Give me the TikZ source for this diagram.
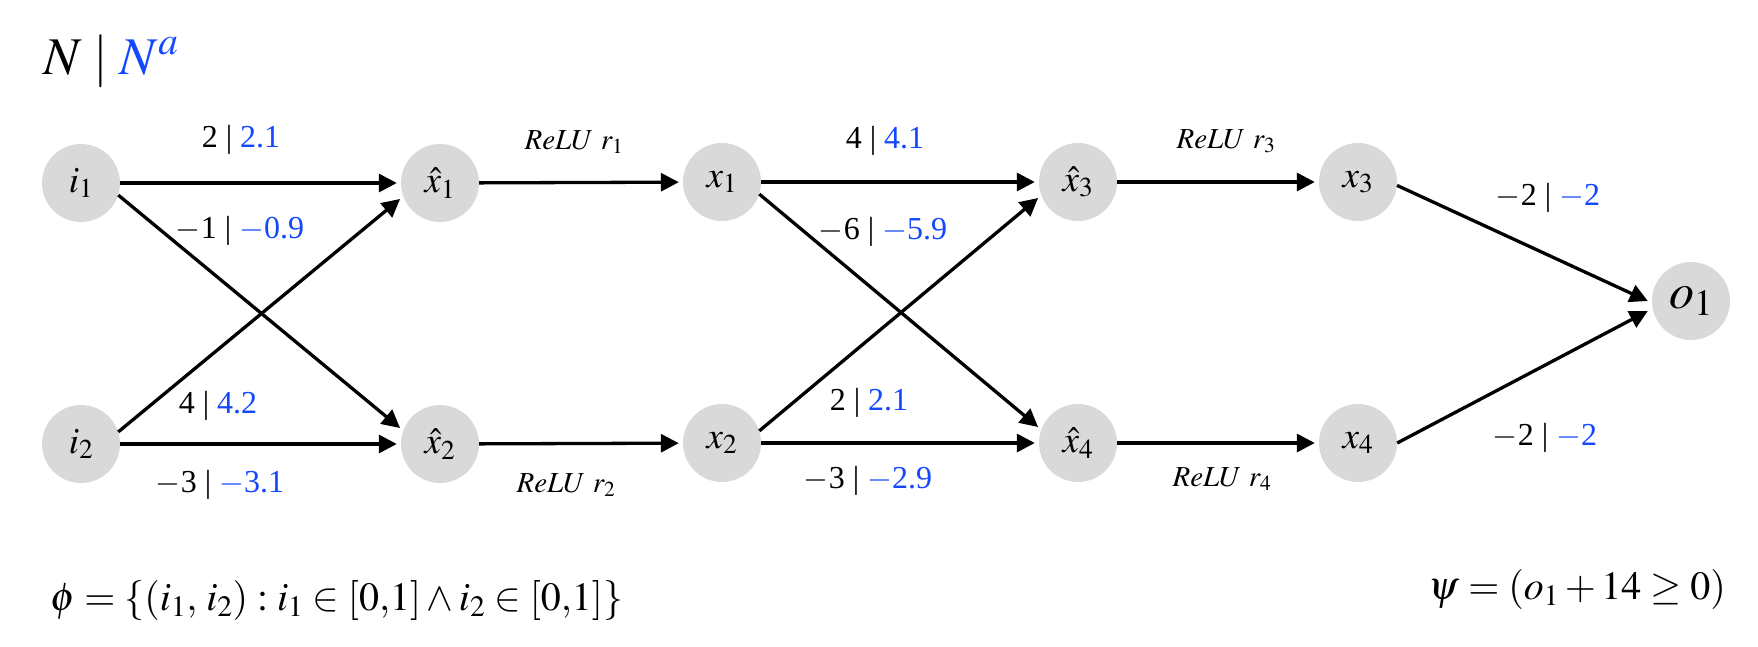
\documentclass[tikz,border=0pt]{standalone}
\usepackage{mathptmx}
\usepackage{fontspec}
\setmainfont{Liberation Serif}
\usetikzlibrary{arrows.meta,calc}
\definecolor{nblue}{RGB}{20,72,255}
\definecolor{ngray}{RGB}{217,217,217}
\begin{document}
\begin{tikzpicture}[x=1pt,y=-1pt,
  neuron/.style={circle,fill=ngray,minimum size=78pt,inner sep=0pt,font=\fontsize{37}{42}\selectfont},
  arr/.style={line width=3.3pt,-{Triangle[length=18pt,width=18pt]},shorten >=4pt},
  wl/.style={font=\fontsize{32}{38}\selectfont,inner sep=0pt,anchor=base},
  rl/.style={font=\fontsize{29}{34}\selectfont,inner sep=0pt,anchor=base},
  big/.style={font=\fontsize{53}{60}\selectfont,inner sep=0pt,anchor=base west},
  form/.style={font=\fontsize{40}{46}\selectfont,inner sep=0pt}]
\useasboundingbox (0,0) rectangle (1758,646);
% neurons
\node[neuron] (i1) at (81,183) {$i_1$};
\node[neuron] (i2) at (81,444) {$i_2$};
\node[neuron] (xh1) at (440,183) {$\hat{x}_1$};
\node[neuron] (xh2) at (440,444) {$\hat{x}_2$};
\node[neuron] (x1) at (722,182) {$x_1$};
\node[neuron] (x2) at (722,443) {$x_2$};
\node[neuron] (xh3) at (1078,182) {$\hat{x}_3$};
\node[neuron] (xh4) at (1078,443) {$\hat{x}_4$};
\node[neuron] (x3) at (1358,182) {$x_3$};
\node[neuron] (x4) at (1358,443) {$x_4$};
\node[neuron,font=\fontsize{50}{56}\selectfont] (o1) at (1691,301) {$o_1$};
% target points at output
\coordinate (o1u) at ($(o1.west)+(-4,0)$);
\coordinate (o1d) at ($(o1.west)+(-4,10)$);
% edges layer 1
\draw[arr] (i1) -- (xh1);
\draw[arr] (i1.-18) -- (xh2.160);
\draw[arr] (i2.18) -- (xh1.200);
\draw[arr] (i2) -- (xh2);
% relu
\draw[arr] (xh1) -- (x1);
\draw[arr] (xh2) -- (x2);
% edges layer 2
\draw[arr] (x1) -- (xh3);
\draw[arr] (x1.-18) -- (xh4.160);
\draw[arr] (x2.18) -- (xh3.200);
\draw[arr] (x2) -- (xh4);
% relu
\draw[arr] (xh3) -- (x3);
\draw[arr] (xh4) -- (x4);
% output
\draw[arr,shorten >=0pt] (x3.-5) -- (o1u);
\draw[arr,shorten >=0pt] (x4.east) -- (o1d);
% weight labels
\node[wl] (w1) at (241,147) {2 | \textcolor{nblue}{2.1}};
\node[wl] (w2) at (240,238) {$-$1 | \textcolor{nblue}{$-$0.9}};
\node[wl] (w3) at (218,413) {4 | \textcolor{nblue}{4.2}};
\node[wl] (w4) at (220,492) {$-$3 | \textcolor{nblue}{$-$3.1}};
\node[wl] (w5) at (885,148) {4 | \textcolor{nblue}{4.1}};
\node[wl] (w6) at (883,239) {$-$6 | \textcolor{nblue}{$-$5.9}};
\node[wl] (w7) at (869,410) {2 | \textcolor{nblue}{2.1}};
\node[wl] (w8) at (868,488) {$-$3 | \textcolor{nblue}{$-$2.9}};
\node[wl] (w9) at (1548,205) {$-$2 | \textcolor{nblue}{$-$2}};
\node[wl] (w10) at (1545,445) {$-$2 | \textcolor{nblue}{$-$2}};
% relu labels
\node[rl] (r1) at (574,149) {$ReLU\ r_1$};
\node[rl] (r2) at (566,492) {$ReLU\ r_2$};
\node[rl] (r3) at (1226,148) {$ReLU\ r_3$};
\node[rl] (r4) at (1222,486) {$ReLU\ r_4$};
% title
\node[big] (title) at (43,74) {$N \mid \textcolor{nblue}{N^a}$};
% formulas
\node[form,anchor=base west] (phi) at (50,610) {$\phi = \{(i_1,\, i_2) \mathrel{:} i_1 \in [0{,}1] \mathbin{\wedge} i_2 \in [0{,}1]\}$};
\node[form,anchor=base east] (psi) at (1726,599) {$\psi = (o_1 + 14 \geq 0)$};
\end{tikzpicture}
\end{document}
